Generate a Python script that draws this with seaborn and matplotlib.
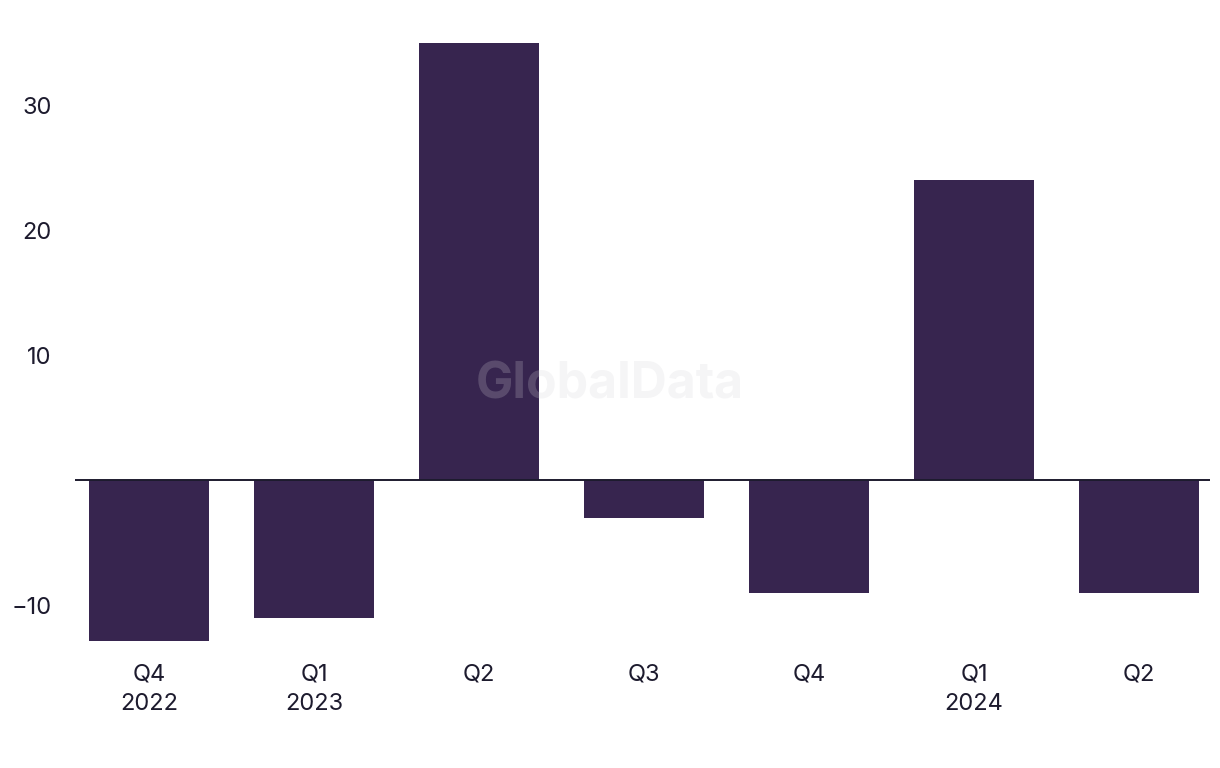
import pandas as pd
import matplotlib
matplotlib.use('Agg')
import matplotlib.pyplot as plt
import seaborn as sns

# data
periods = ['2022Q4', '2023Q1', '2023Q2', '2023Q3', '2023Q4', '2024Q1', '2024Q2']
tick_labels = ['Q4\n2022', 'Q1\n2023', 'Q2', 'Q3', 'Q4', 'Q1\n2024', 'Q2']
values = [-12.9, -11.0, 35.0, -3.0, -9.0, 24.0, -9.0]

df = pd.DataFrame({'period': periods, 'value': values})

sns.set_style('white')
plt.rcParams['font.family'] = ['Inter', 'DejaVu Sans']

text_color = '#1d1b2e'
bar_color = '#37254f'

fig = plt.figure(figsize=(12.2, 7.68), dpi=100)
ax = fig.add_axes([75 / 1220, 123 / 768, 1135 / 1220, 605 / 768])

sns.barplot(data=df, x='period', y='value', color=bar_color, width=0.73,
            saturation=1, linewidth=0, ax=ax, zorder=2)

ax.axhline(0, color=text_color, linewidth=1.4, zorder=3)

ax.set_ylim(-13.2, 35.2)
ax.set_xlim(-0.45, 6.43)
ax.set_yticks([-10, 10, 20, 30])
ax.set_yticklabels(['\u221210', '10', '20', '30'])
ax.set_xticks(range(len(periods)))
ax.set_xticklabels(tick_labels, linespacing=1.45)
ax.tick_params(axis='y', length=0, pad=17, labelsize=17, labelcolor=text_color)
ax.tick_params(axis='x', length=0, pad=13, labelsize=17, labelcolor=text_color)
ax.set_xlabel('')
ax.set_ylabel('')
sns.despine(ax=ax, left=True, bottom=True)

fig.text(610 / 1220, 1 - 385 / 768, 'GlobalData', ha='center', va='center',
         fontsize=36, fontweight='bold', color='#d2d2d7', alpha=0.22, zorder=10)

fig.savefig('out.png', dpi=100)
